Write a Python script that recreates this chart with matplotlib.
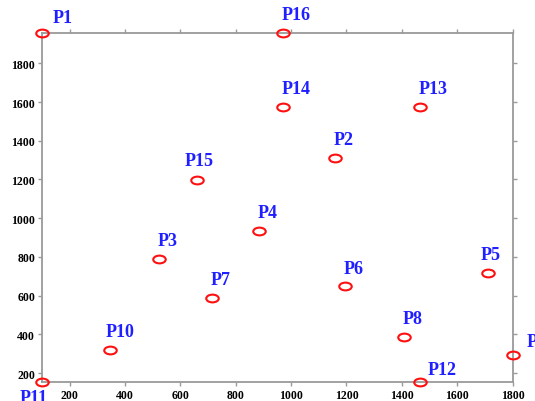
"""Scatter of labelled points P1..P16 with open red ellipse markers."""

import matplotlib

matplotlib.use("Agg")
import matplotlib.pyplot as plt
from matplotlib.path import Path
from matplotlib.transforms import Affine2D

# Point data
names = ["P1", "P2", "P3", "P4", "P5", "P6", "P7", "P8",
         "P9", "P10", "P11", "P12", "P13", "P14", "P15", "P16"]
x_vals = [100, 1160, 522, 885, 1710, 1195, 715, 1407,
          1800, 345, 100, 1467, 1466, 970, 660, 970]
y_vals = [1957, 1310, 790, 935, 718, 648, 590, 385,
          295, 318, 152, 152, 1576, 1576, 1195, 1957]
x_ticks = [200, 400, 600, 800, 1000, 1200, 1400, 1600, 1800]
y_ticks = [200, 400, 600, 800, 1000, 1200, 1400, 1600, 1800]

# label placement (offset in points from the marker centre)
DEFAULT_OFFSET = (-1, 7)
LABEL_OFFSETS = {
    "P1": (8, 5),
    "P5": (-5, 7),
    "P9": (10, 3),
    "P10": (-3, 7),
    "P11": (-16, -17),
    "P12": (5, 3),
    "P15": (-9, 8),
}

SPINE_GRAY = "#9a9a9a"
LABEL_BLUE = "#1f1fff"
MARKER_RED = "#ff1010"

# flattened ellipse marker
ellipse = Path.unit_circle().transformed(Affine2D().scale(1.0, 0.62))

fig = plt.figure(figsize=(5.35, 4.02), dpi=100)
ax = fig.add_axes([0.0785, 0.0465, 0.8795, 0.869])

ax.plot(x_vals, y_vals, linestyle="none", marker=ellipse, markersize=9,
        markerfacecolor="none", markeredgecolor=MARKER_RED,
        markeredgewidth=1.5, clip_on=False, zorder=3)

for name, x, y in zip(names, x_vals, y_vals):
    dx, dy = LABEL_OFFSETS.get(name, DEFAULT_OFFSET)
    ax.annotate(name, (x, y), xytext=(dx, dy), textcoords="offset points",
                ha="left", va="bottom", fontsize=13, fontweight="bold",
                family="Liberation Serif", color=LABEL_BLUE,
                annotation_clip=False)

ax.set_xlim(100, 1800)
ax.set_ylim(152, 1957)
ax.set_xticks(x_ticks)
ax.set_yticks(y_ticks)

for spine in ax.spines.values():
    spine.set_color(SPINE_GRAY)
    spine.set_linewidth(1.3)

ax.tick_params(axis="both", which="both", direction="out", length=3,
               width=1.0, color=SPINE_GRAY, top=True, right=True,
               labeltop=False, labelright=False, pad=2)
for lab in ax.get_xticklabels() + ax.get_yticklabels():
    lab.set_fontfamily("Liberation Serif")
    lab.set_fontweight("bold")
    lab.set_fontsize(8.5)
    lab.set_color("black")

fig.savefig("out.png", dpi=100, facecolor="white")
